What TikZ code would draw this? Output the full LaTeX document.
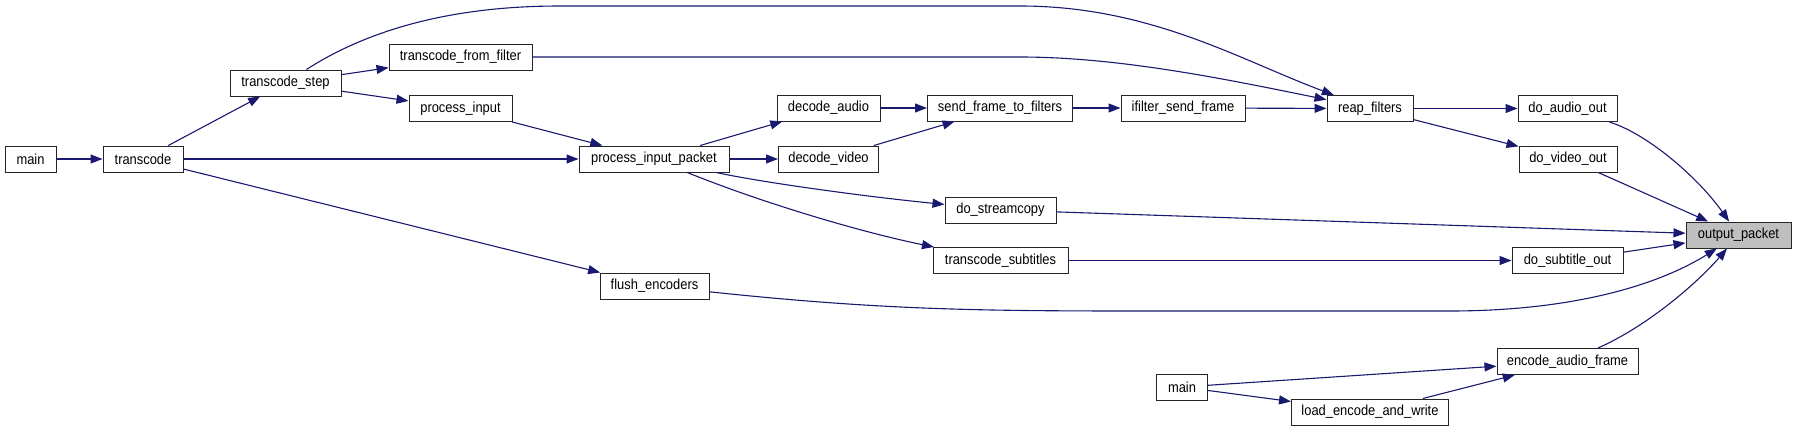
\documentclass[tikz,border=0pt]{standalone}
\usepackage{fontspec}
\setmainfont{Liberation Sans}[FakeStretch=0.89]
\usetikzlibrary{arrows.meta}
\definecolor{edgeBlue}{RGB}{25, 25, 112}
\definecolor{selGray}{RGB}{191, 191, 191}

\begin{document}
\begin{tikzpicture}[x=1pt, y=-1pt,
  fn/.style={draw=black!85, fill=white, line width=1pt,
             minimum height=26pt, inner sep=0pt,
             font=\fontsize{14.5}{16}\selectfont},
  sel/.style={fn, fill=selGray},
  call/.style={->, draw=edgeBlue, line width=1.1pt},
  >={Triangle[length=12pt, width=9pt]}
]
  \useasboundingbox (0,0) rectangle (1796,431);

  % Callers on the left
  \node[fn, minimum width=51pt]  (main)     at (30.5,159)   {main};
  \node[fn, minimum width=80pt]  (transcode) at (143,159)   {transcode};
  \node[fn, minimum width=111pt] (tstep)    at (285.5,83)   {transcode\_step};
  \node[fn, minimum width=143pt] (tfilter)  at (460.5,57)   {transcode\_from\_filter};
  \node[fn, minimum width=103pt] (pinput)   at (460.5,108.5) {process\_input};
  \node[fn, minimum width=150pt] (ppacket)  at (654,159)    {process\_input\_packet};
  \node[fn, minimum width=109pt] (flush)    at (654.5,286)  {flush\_encoders};

  % Decoding and filtering
  \node[fn, minimum width=103pt] (daudio)    at (828.5,108)  {decode\_audio};
  \node[fn, minimum width=100pt] (dvideo)    at (828.5,159)  {decode\_video};
  \node[fn, minimum width=145pt] (sendframe) at (1000,108)   {send\_frame\_to\_filters};
  \node[fn, minimum width=124pt] (ifilter)   at (1183,108)   {ifilter\_send\_frame};
  \node[fn, minimum width=111pt] (streamcopy) at (1000.5,210) {do\_streamcopy};
  \node[fn, minimum width=135pt] (tsubs)     at (1000.5,260.5) {transcode\_subtitles};

  % Output side
  \node[fn, minimum width=86pt]  (reap)    at (1370,108.5)   {reap\_filters};
  \node[fn, minimum width=99pt]  (aout)    at (1567.5,108.5) {do\_audio\_out};
  \node[fn, minimum width=98pt]  (vout)    at (1568,159)     {do\_video\_out};
  \node[fn, minimum width=111pt] (sout)    at (1567.5,260.5) {do\_subtitle\_out};
  \node[sel, minimum width=105pt] (opacket) at (1738.5,235)  {output\_packet};

  % Second caller chain
  \node[fn, minimum width=141pt] (eaudio) at (1567.5,361.5) {encode\_audio\_frame};
  \node[fn, minimum width=51pt]  (mainb)  at (1182,387)     {main};
  \node[fn, minimum width=157pt] (lew)    at (1370,412)     {load\_encode\_and\_write};

  % Calls
  \draw[call] (main) -- (transcode);
  \draw[call] (transcode) -- (tstep);
  \draw[call] (transcode) -- (ppacket);
  \draw[call] (transcode) -- (flush);
  \draw[call] (tstep) -- (tfilter);
  \draw[call] (tstep) -- (pinput);
  \draw[call] (tstep) .. controls (360,35) and (440,6) .. (560,6) -- (1020,6)
    .. controls (1150,6) and (1240,60) .. (reap);
  \draw[call] (tfilter) -- (1020,57) .. controls (1120,57) and (1230,80) .. (reap);
  \draw[call] (pinput) -- (ppacket);
  \draw[call] (ppacket) -- (daudio);
  \draw[call] (ppacket) -- (dvideo);
  \draw[call] (ppacket) .. controls (760,182) and (860,196) .. (streamcopy);
  \draw[call] (ppacket) .. controls (760,202) and (860,232) .. (tsubs);
  \draw[call] (daudio) -- (sendframe);
  \draw[call] (dvideo) -- (sendframe);
  \draw[call] (sendframe) -- (ifilter);
  \draw[call] (ifilter) -- (reap);
  \draw[call] (reap) -- (aout);
  \draw[call] (reap) -- (vout);
  \draw[call] (aout) .. controls (1650,135) and (1700,180) .. (opacket);
  \draw[call] (vout) -- (opacket);
  \draw[call] (streamcopy) -- (opacket);
  \draw[call] (tsubs) -- (sout);
  \draw[call] (sout) -- (opacket);
  \draw[call] (flush) .. controls (900,312) and (1000,311) .. (1200,311) -- (1450,311)
    .. controls (1560,311) and (1650,290) .. (opacket);
  \draw[call] (eaudio) .. controls (1650,325) and (1700,280) .. (opacket);
  \draw[call] (mainb) -- (eaudio);
  \draw[call] (mainb) -- (lew);
  \draw[call] (lew) -- (eaudio);

\end{tikzpicture}
\end{document}
